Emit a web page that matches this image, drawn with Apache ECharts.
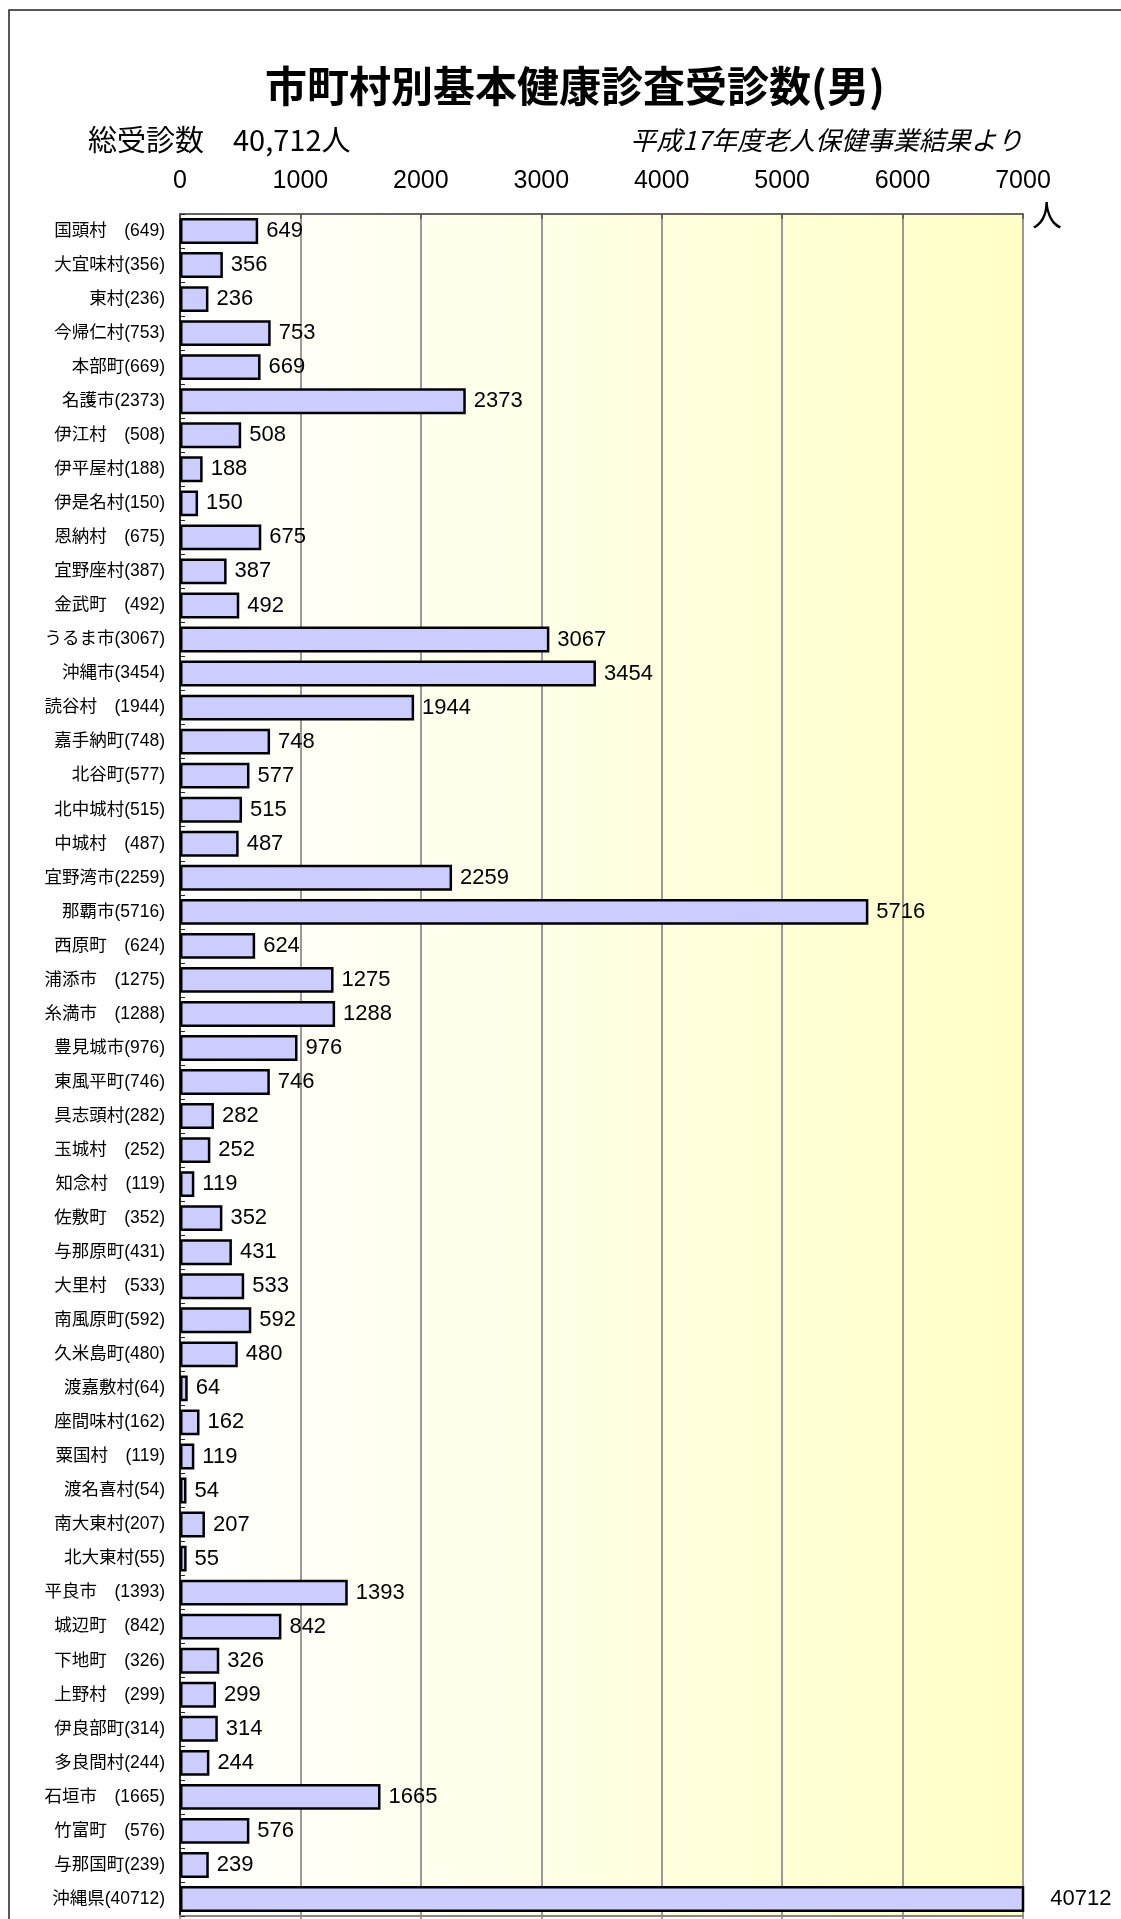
<!DOCTYPE html>
<html>
<head>
<meta charset="utf-8">
<script src="https://cdn.jsdelivr.net/npm/echarts@6/dist/echarts.min.js"></script>
<style>
html,body{margin:0;padding:0;background:#fff;}
#chart{width:1121px;height:1919px;}
</style>
</head>
<body>
<div id="chart"></div>
<script>
const categoryLabels = [
  '国頭村　(649)','大宜味村(356)','東村(236)','今帰仁村(753)','本部町(669)','名護市(2373)',
  '伊江村　(508)','伊平屋村(188)','伊是名村(150)','恩納村　(675)','宜野座村(387)','金武町　(492)',
  'うるま市(3067)','沖縄市(3454)','読谷村　(1944)','嘉手納町(748)','北谷町(577)','北中城村(515)',
  '中城村　(487)','宜野湾市(2259)','那覇市(5716)','西原町　(624)','浦添市　(1275)','糸満市　(1288)',
  '豊見城市(976)','東風平町(746)','具志頭村(282)','玉城村　(252)','知念村　(119)','佐敷町　(352)',
  '与那原町(431)','大里村　(533)','南風原町(592)','久米島町(480)','渡嘉敷村(64)','座間味村(162)',
  '粟国村　(119)','渡名喜村(54)','南大東村(207)','北大東村(55)','平良市　(1393)','城辺町　(842)',
  '下地町　(326)','上野村　(299)','伊良部町(314)','多良間村(244)','石垣市　(1665)','竹富町　(576)',
  '与那国町(239)','沖縄県(40712)'
];
const examinees = [
  649,356,236,753,669,2373,
  508,188,150,675,387,492,
  3067,3454,1944,748,577,515,
  487,2259,5716,624,1275,1288,
  976,746,282,252,119,352,
  431,533,592,480,64,162,
  119,54,207,55,1393,842,
  326,299,314,244,1665,576,
  239,40712
];
const axisMin = 0, axisMax = 7000, axisStep = 1000;
const titleText = '市町村別基本健康診査受診数(男)';
const totalText = '総受診数　40,712人';
const sourceText = '平成17年度老人保健事業結果より';
const unitText = '人';

const FONT = "'Liberation Sans', 'Noto Sans CJK JP', sans-serif";
const chart = echarts.init(document.getElementById('chart'), null, {renderer:'canvas'});

const seriesData = examinees.map(v => {
  if (v > axisMax) {
    return {value: v, label: {distance: 26}};
  }
  return v;
});

chart.setOption({
  animation: false,
  backgroundColor: '#ffffff',
  grid: {
    left: 180, right: 98, top: 214, bottom: 3,
    show: true,
    borderWidth: 0,
    backgroundColor: new echarts.graphic.LinearGradient(0, 0, 1, 0, [
      {offset: 0, color: '#ffffff'},
      {offset: 1, color: '#ffffc6'}
    ])
  },
  xAxis: [{
    type: 'value', position: 'top', min: axisMin, max: axisMax, interval: axisStep,
    axisLine: {show: true, lineStyle: {color: '#666', width: 2}},
    axisTick: {show: true, inside: true, length: 5, lineStyle: {color: '#555', width: 1.5}},
    axisLabel: {show: true, fontSize: 25, color: '#000', margin: 20, fontFamily: FONT,
      formatter: v => String(v)},
    splitLine: {show: true, lineStyle: {color: '#9a9a9a', width: 2}}
  }, {
    type: 'value', position: 'bottom', min: axisMin, max: axisMax, interval: axisStep,
    axisLine: {show: true, lineStyle: {color: '#888', width: 2}},
    axisTick: {show: true, inside: false, length: 4, lineStyle: {color: '#888', width: 1.5}},
    axisLabel: {show: false},
    splitLine: {show: false}
  }],
  yAxis: {
    type: 'category', inverse: true, data: categoryLabels,
    axisLine: {show: true, lineStyle: {color: '#222', width: 2}},
    axisTick: {show: true, inside: true, length: 5, lineStyle: {color: '#222', width: 1}},
    axisLabel: {fontSize: 17.5, color: '#000', margin: 15, fontFamily: FONT, interval: 0},
    splitLine: {show: false}
  },
  series: [{
    type: 'bar',
    data: seriesData,
    xAxisIndex: 0,
    barCategoryGap: '24%',
    clip: true,
    itemStyle: {color: '#ccccff', borderColor: '#000', borderWidth: 2.5},
    label: {show: true, position: 'right', distance: 8, fontSize: 22, color: '#000', fontFamily: FONT}
  }],
  graphic: [
    {type: 'rect', z: 100, silent: true, shape: {x: 9, y: 10, width: 1300, height: 2100},
     style: {fill: 'none', stroke: '#222', lineWidth: 1.5}},
    {type: 'text', x: 575, y: 86, z: 100,
     style: {text: titleText, fontSize: 42, fontWeight: 'bold', fontFamily: "'Noto Sans CJK JP', sans-serif",
       fill: '#000', align: 'center', verticalAlign: 'middle'}},
    {type: 'text', x: 88, y: 140, z: 100,
     style: {text: totalText, fontSize: 29, fontFamily: "'Noto Sans CJK JP', sans-serif",
       fill: '#000', align: 'left', verticalAlign: 'middle'}},
    {type: 'text', x: 1023, y: 140, z: 100,
     style: {text: sourceText, fontSize: 26, fontStyle: 'italic', fontFamily: "'Noto Sans CJK JP', sans-serif",
       fill: '#000', align: 'right', verticalAlign: 'middle'}},
    {type: 'text', x: 1047, y: 215, z: 100,
     style: {text: unitText, fontSize: 30, fontFamily: "'Noto Sans CJK JP', sans-serif",
       fill: '#000', align: 'center', verticalAlign: 'middle'}}
  ]
});
</script>
</body>
</html>
